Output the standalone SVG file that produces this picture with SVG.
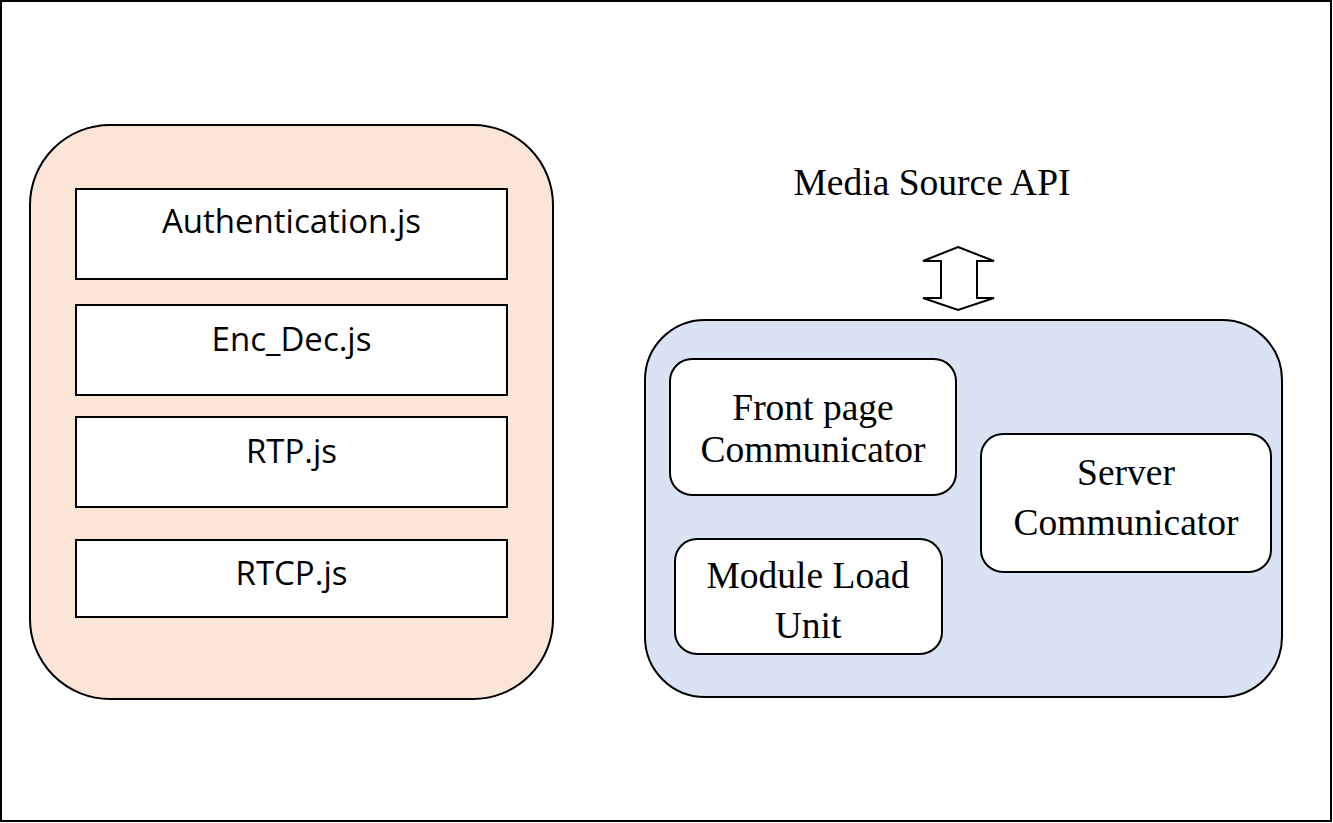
<svg xmlns="http://www.w3.org/2000/svg" width="1333" height="823" viewBox="0 0 1333 823">
<style>
.frame{fill:#fff;stroke:#000;stroke-width:2}
.grp{stroke:#000;stroke-width:2}
.box{fill:#fff;stroke:#000;stroke-width:2}
.sans{font-family:"Open Sans","Liberation Sans",sans-serif;font-size:33px;fill:#000;text-anchor:middle}
.serif{font-family:"Liberation Serif","Times New Roman",serif;font-size:37.5px;fill:#000;text-anchor:middle}
</style>
<rect class="frame" x="1" y="1" width="1330" height="820"/>
<g id="client-modules">
<rect class="grp" x="30" y="125" width="523" height="574" rx="80" ry="80" fill="#FBE5D6"/>
</g>
<g id="authentication">
<rect class="box" x="76" y="189" width="431" height="90"/>
<text class="sans" x="291.5" y="233">Authentication.js</text>
</g>
<g id="enc-dec">
<rect class="box" x="76" y="305" width="431" height="90"/>
<text class="sans" x="291.5" y="351">Enc_Dec.js</text>
</g>
<g id="rtp">
<rect class="box" x="76" y="417" width="431" height="90"/>
<text class="sans" x="291.5" y="463">RTP.js</text>
</g>
<g id="rtcp">
<rect class="box" x="76" y="540" width="431" height="77"/>
<text class="sans" x="291.5" y="585">RTCP.js</text>
</g>
<g id="media-source-api">
<text class="serif" x="932" y="195">Media Source API</text>
</g>
<g id="connectors">
<path d="M958,247 L994,261 L977,261 L977,298 L994,298 L958,310 L923,298 L941,298 L941,261 L923,261 Z" fill="#fff" stroke="#000" stroke-width="2" stroke-linejoin="miter"/>
</g>
<g id="extension">
<rect class="grp" x="645" y="320" width="637" height="377" rx="60" ry="60" fill="#DAE3F3"/>
</g>
<g id="front-page-communicator">
<rect class="box" x="670" y="359" width="286" height="136" rx="22" ry="22"/>
<text class="serif" x="813" y="420">Front page</text>
<text class="serif" x="813" y="462">Communicator</text>
</g>
<g id="server-communicator">
<rect class="box" x="981" y="434" width="290" height="138" rx="22" ry="22"/>
<text class="serif" x="1126" y="485">Server</text>
<text class="serif" x="1126" y="535">Communicator</text>
</g>
<g id="module-load-unit">
<rect class="box" x="675" y="539" width="267" height="115" rx="22" ry="22"/>
<text class="serif" x="808" y="588">Module Load</text>
<text class="serif" x="808" y="638">Unit</text>
</g>
</svg>
